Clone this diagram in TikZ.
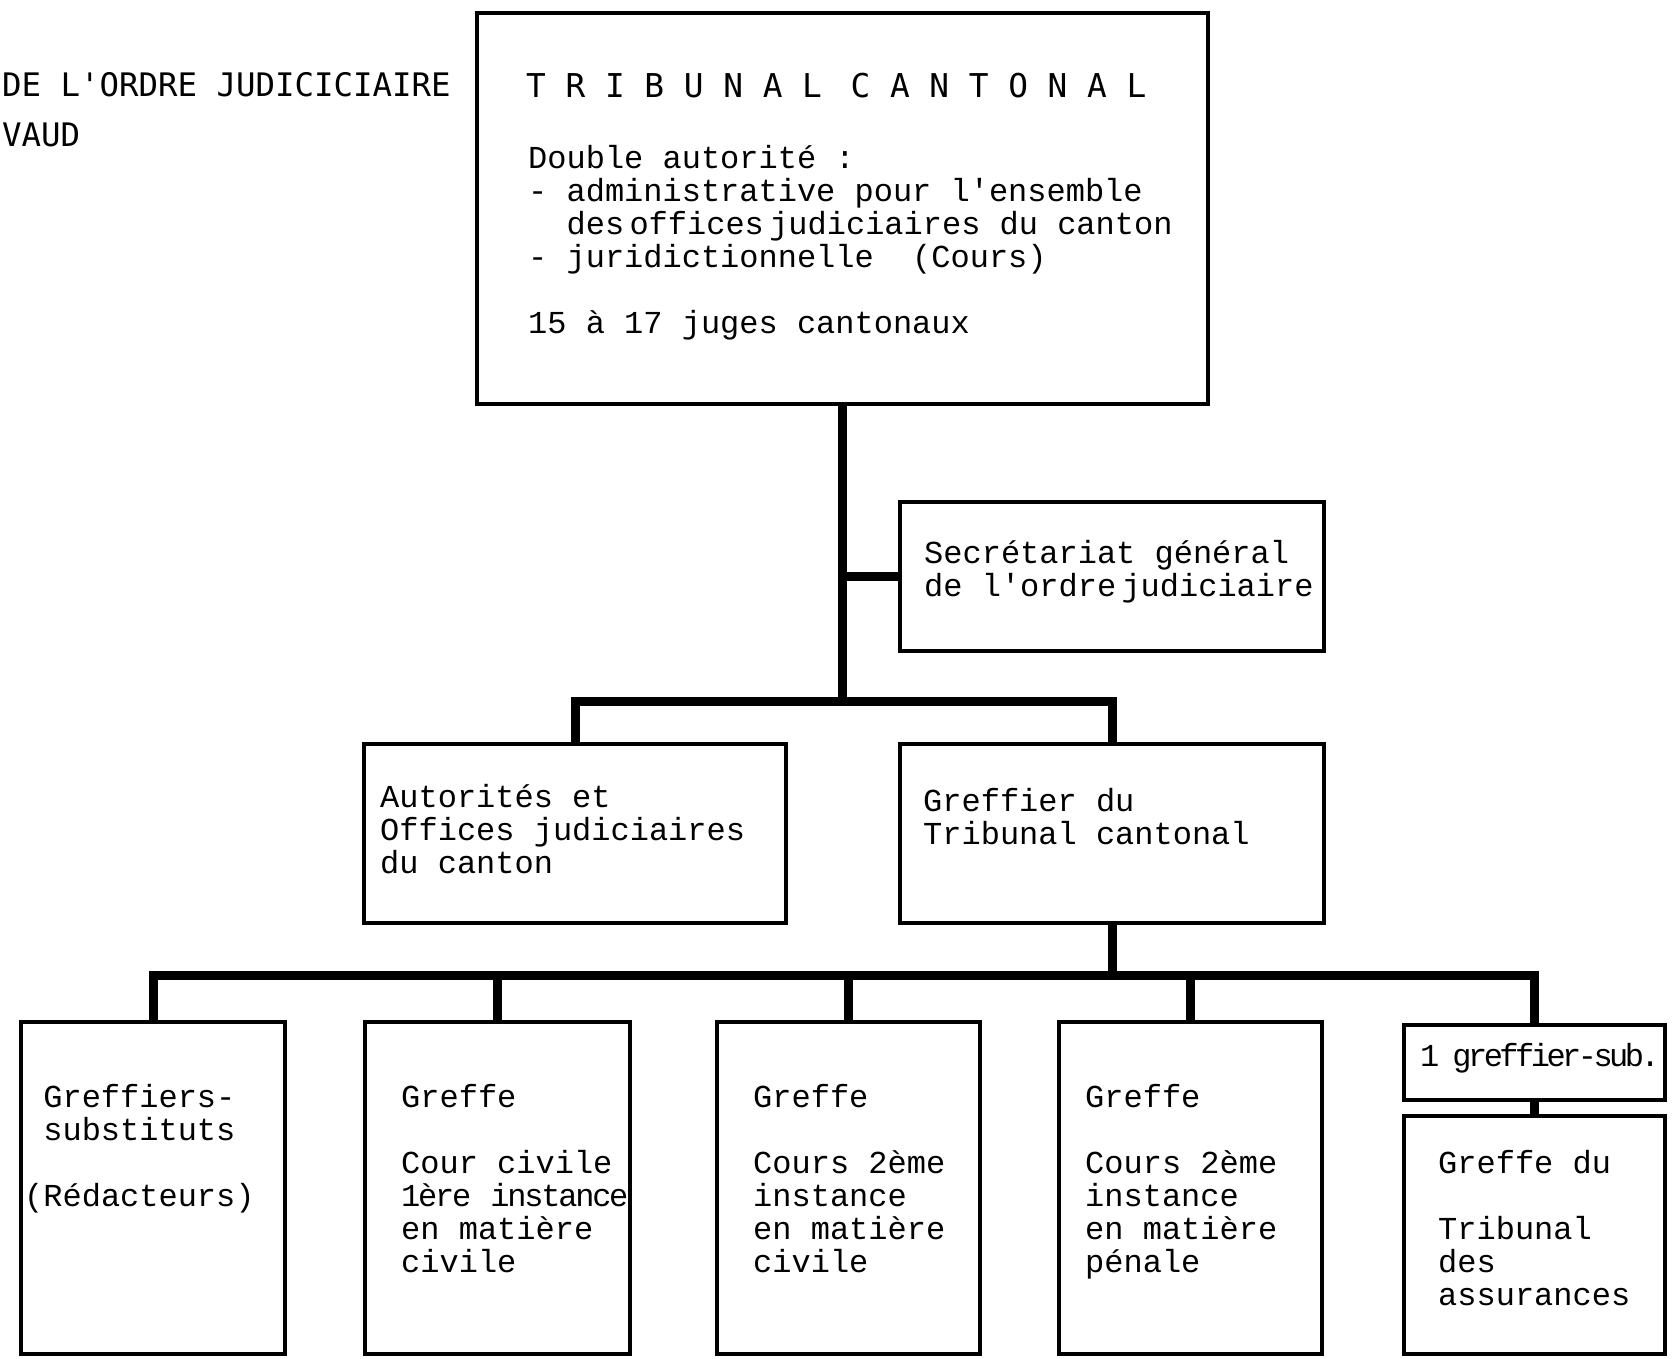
\documentclass[tikz,border=0pt]{standalone}
\usepackage{fontspec}
\newfontfamily\typewfont{Liberation Mono}
\newfontfamily\headfont{DejaVu Sans Mono}
\newcommand{\typew}{\typewfont\fontsize{32}{33}\selectfont}
\newcommand{\headA}{\headfont\fontsize{32.4}{50}\selectfont}
\newcommand{\headB}{\headfont\fontsize{32.8}{40}\selectfont}

\begin{document}
\begin{tikzpicture}[x=1pt,y=-1pt,
  box/.style={draw,line width=3.5pt,inner sep=0pt},
  link/.style={line width=9pt},
  txt/.style={anchor=base west,inner sep=0pt,align=left,text width=420pt,font=\typew,
    execute at begin node={\spaceskip=0.6em\relax}}]
  \useasboundingbox (0,0) rectangle (1674,1359);
  % heading, cut at the left
  \node[txt,text width=700pt,font=\headA] (hd1) at (2,97) {DE L'ORDRE JUDICICIAIRE};
  \node[txt,text width=700pt,font=\headA] (hd2) at (2,147) {VAUD};
  % boxes
  \node[box,minimum width=731,minimum height=391] (tc) at (842.5,208.5) {};
  \node[box,minimum width=424,minimum height=149] (sg) at (1112,576.5) {};
  \node[box,minimum width=422,minimum height=179] (ao) at (575,833.5) {};
  \node[box,minimum width=424,minimum height=179] (gr) at (1112,833.5) {};
  \node[box,minimum width=264,minimum height=332] (b1) at (153,1188) {};
  \node[box,minimum width=265,minimum height=332] (b2) at (497.5,1188) {};
  \node[box,minimum width=263,minimum height=332] (b3) at (848.5,1188) {};
  \node[box,minimum width=263,minimum height=332] (b4) at (1190.5,1188) {};
  \node[box,minimum width=261,minimum height=75] (b5) at (1534.5,1062.5) {};
  \node[box,minimum width=261,minimum height=238] (b6) at (1534.5,1235) {};
  % texts
  \node[txt,text width=800pt,font=\headB] (tc-title) at (526,98) {T R I B U N A L\hspace{9pt} C A N T O N A L};
  \node[txt,text width=700pt] (tc-txt) at (528,169) {Double autorit\'e :\\
    - administrative pour l'ensemble\\
    \hspace*{38.4pt}des\,offices\,judiciaires du canton\\
    - juridictionnelle~~(Cours)\\[33pt]
    15 \`a 17 juges cantonaux};
  \node[txt] (sg-txt) at (924,563) {Secr\'etariat g\'en\'eral\\de l'ordre\,judiciaire};
  \node[txt] (ao-txt) at (380,807) {Autorit\'es et\\Offices judiciaires\\du canton};
  \node[txt] (gr-txt) at (923,811) {Greffier du\\Tribunal cantonal};
  \node[txt] (b1-txt) at (24,1107) {\hspace*{19.2pt}Greffiers-\\\hspace*{19.2pt}substituts\\[33pt](R\'edacteurs)};
  \node[txt] (b2-txt) at (401,1107) {Greffe\\[33pt]Cour civile\\{\addfontfeature{LetterSpace=-7}1\`ere instance}\\en mati\`ere\\civile};
  \node[txt] (b3-txt) at (753,1107) {Greffe\\[33pt]Cours 2\`eme\\instance\\en mati\`ere\\civile};
  \node[txt] (b4-txt) at (1085,1107) {Greffe\\[33pt]Cours 2\`eme\\instance\\en mati\`ere\\p\'enale};
  \node[txt] (b5-txt) at (1420,1066) {{\addfontfeature{LetterSpace=-11}1\hspace{13pt}greffier-sub.}};
  \node[txt] (b6-txt) at (1438,1173) {Greffe du\\[33pt]Tribunal\\des\\assurances};
  % connectors
  \coordinate (j1) at (842.5,701);
  \coordinate (j2) at (1112,975);
  \draw[link] (tc.south) -- (j1);
  \draw[link] (sg.west) -- (sg.west -| j1);
  \draw[link] (ao.north) |- (j1) -| (gr.north);
  \draw[link] (gr.south) -- (j2);
  \draw[link] (b1.north) |- (j2) -| (b5.north);
  \foreach \b in {b2,b3,b4}
    \draw[link] (\b.north) -- (\b.north |- j2);
  \draw[link] (b5.south) -- (b6.north);
\end{tikzpicture}
\end{document}
